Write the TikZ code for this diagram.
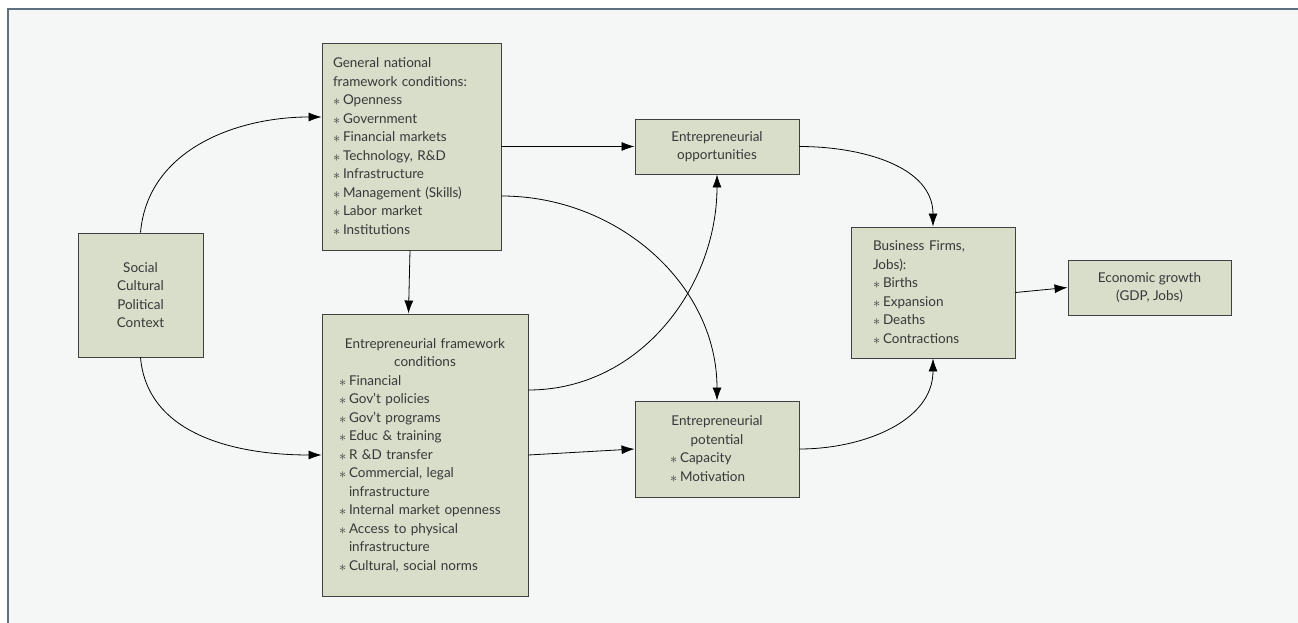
\documentclass[tikz,border=0pt]{standalone}
\usepackage{fontspec}
\setmainfont{Lato}
\usetikzlibrary{arrows.meta}
\definecolor{boxfill}{HTML}{D8DECA}
\definecolor{panel}{HTML}{F5F7F6}
\definecolor{frameline}{HTML}{5F7080}
\definecolor{txt}{HTML}{383838}
\newcommand{\bul}{\makebox[10pt][l]{\raisebox{-1pt}{\fontsize{14}{14}\selectfont$\ast$}}}
\newcommand{\ind}{\hspace*{10pt}}
\tikzset{
  stage/.style={draw=black!75, fill=boxfill, line width=0.9pt, text=txt, inner sep=0pt,
    font=\fontsize{13.5}{18.5}\selectfont},
  link/.style={-{Latex[length=13pt,width=9pt]}, line width=0.8pt}
}
\begin{document}
\begin{tikzpicture}[x=1pt,y=1pt]
\useasboundingbox (0,0) rectangle (1298,623);
\fill[white] (0,0) rectangle (1298,623);
\fill[panel] (8,0) rectangle (1298,614);
\draw[frameline,line width=1.5pt] (8,0) -- (8,614) -- (1298,614);

\node[stage, minimum width=125, minimum height=124, align=center] (social) at (140.5,328)
  {Social\\Cultural\\Political\\Context};
\node[stage, minimum width=179, minimum height=207, text width=157, align=left] (gen) at (411.5,476.5)
  {General national\\framework conditions:\\\bul Openness\\\bul Government\\\bul Financial markets\\\bul Technology, R\&D\\\bul Infrastructure\\\bul Management (Skills)\\\bul Labor market\\\bul Institutions};
\node[stage, minimum width=206, minimum height=282, text width=172, align=left] (efc) at (425,168)
  {\makebox[172pt][c]{Entrepreneurial framework}\\\makebox[172pt][c]{conditions}\\\bul Financial\\\bul Gov't policies\\\bul Gov't programs\\\bul Educ \& training\\\bul R \&D transfer\\\bul Commercial, legal\\\ind infrastructure\\\bul Internal market openness\\\bul Access to physical\\\ind infrastructure\\\bul Cultural, social norms};
\node[stage, minimum width=164, minimum height=55, align=center] (opp) at (717,476.5)
  {Entrepreneurial\\opportunities};
\node[stage, minimum width=164, minimum height=96, text width=94, align=left] (pot) at (717,174)
  {\makebox[94pt][c]{Entrepreneurial}\\\makebox[94pt][c]{potential}\\\bul Capacity\\\bul Motivation};
\node[stage, minimum width=164, minimum height=131, text width=120, align=left] (firms) at (933,330.5)
  {Business Firms,\\Jobs):\\\bul Births\\\bul Expansion\\\bul Deaths\\\bul Contractions};
\node[stage, minimum width=163, minimum height=55, align=center] (growth) at (1149.5,335.5)
  {Economic growth\\(GDP, Jobs)};

\draw[link] (social.north) to[out=85,in=180] ([yshift=29.5pt]gen.west);
\draw[link] (social.south) to[out=-85,in=180] (efc.west);
\draw[link] ([xshift=-1.5pt]gen.south) -- ([xshift=-16.5pt]efc.north);
\draw[link] (gen.east) -- (opp.west);
\draw[link] ([yshift=-49.5pt]gen.east) to[out=0,in=90] (pot.north);
\draw[link] ([yshift=65pt]efc.east) to[out=0,in=-90] (opp.south);
\draw[link] (efc.east) -- (pot.west);
\draw[link] (opp.east) to[out=0,in=90] (firms.north);
\draw[link] (pot.east) to[out=0,in=-90] (firms.south);
\draw[link] (firms.east) -- (growth.west);
\end{tikzpicture}
\end{document}
